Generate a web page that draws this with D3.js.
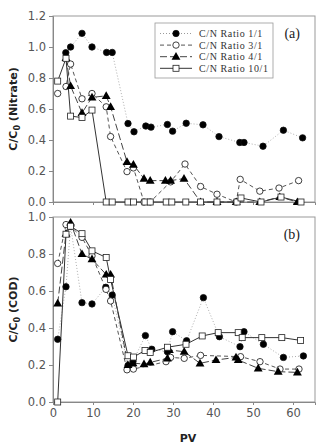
<!DOCTYPE html>
<html><head><meta charset="utf-8">
<script src="https://cdn.jsdelivr.net/npm/d3@7"></script>
<style>body{margin:0;background:#fff}svg{display:block}</style>
</head><body>
<script>
// ---- data ----
const seriesNames = ["C/N Ratio 1/1","C/N Ratio 3/1","C/N Ratio 4/1","C/N Ratio 10/1"];
const yTicksTop = [0,0.2,0.4,0.6,0.8,1.0,1.2];
const yTicksBottom = [0,0.2,0.4,0.6,0.8,1.0];
const xTicks = [0,10,20,30,40,50,60];

const nitrate11 = [[3.2,0.963],[4.4,1.0],[7.25,1.088],[9.75,1.0],[13.4,0.965],[14.8,0.965],[18.75,0.506],[20.25,0.453],[23.2,0.49],[24.5,0.483],[28.6,0.50],[29.9,0.457],[33.3,0.508],[37.5,0.498],[41.5,0.422],[46.7,0.384],[47.75,0.384],[52.5,0.36],[57.6,0.463],[62.4,0.414]];
const nitrate31 = [[1.17,0.70],[3.25,0.745],[4.4,0.89],[7.25,0.666],[9.75,0.70],[13.3,0.614],[14.4,0.422],[18.5,0.196],[20.1,0.22],[22.75,0],[24.3,0],[29.4,0.13],[33,0.245],[36.9,0.10],[41,0.05],[45.8,0],[46.8,0.146],[51.7,0.07],[56.5,0.09],[61.4,0.138]];
const nitrate41 = [[3.25,0.93],[4.4,0.748],[7.25,0.575],[9.75,0.675],[13.3,0.685],[14.4,0.614],[18.5,0.259],[20.1,0.241],[22.75,0.151],[24.3,0.138],[28.1,0.138],[29.4,0.138],[32.75,0.151],[36.9,0],[41,0],[45.8,0],[51.7,0],[56.7,0.032],[61.1,0]];
const nitrate101 = [[1.17,0.78],[3.25,0.927],[4.4,0.554],[7.25,0.545],[9.75,0.593],[13.3,0],[14.8,0],[18.75,0],[20.1,0],[23,0],[24.3,0],[28.3,0],[29.7,0],[33.2,0],[36.9,0],[41,0],[46,0],[47,0.026],[52,0],[57,0.032],[62,0]];

const cod11 = [[1.17,0.339],[3.25,0.623],[4.4,0.95],[7.25,0.537],[9.75,0.53],[13.2,0.62],[14.8,0.578],[18.75,0.197],[20,0.22],[23.1,0.359],[24.7,0.285],[28.6,0.272],[29.9,0.38],[33.4,0.331],[37.6,0.564],[41.6,0.353],[46.75,0.299],[47.75,0.38],[52.6,0.312],[57.6,0.241],[62.6,0.249]];
const cod31 = [[1.17,0.749],[3.25,0.959],[4.4,0.95],[7.25,0.89],[9.75,0.79],[13.25,0.609],[14.4,0.546],[18.5,0.174],[20.1,0.178],[28.25,0.218],[29.4,0.241],[32.8,0.236],[36.9,0.252],[46.9,0.245],[51.75,0.218],[56.75,0.178],[61.5,0.178]];
const cod41 = [[1.17,0.533],[3.25,0.91],[4.4,0.97],[7.25,0.80],[9.75,0.772],[13.3,0.689],[14.4,0.689],[18.75,0.2],[20,0.21],[22.75,0.205],[24.3,0.214],[28.6,0.236],[29.1,0.281],[32.8,0.272],[36.75,0.209],[40.75,0.227],[45.75,0.241],[46.3,0.227],[51.3,0.182],[56.3,0.164],[61.1,0.16]];
const cod101 = [[1.17,0.0],[3.25,0.907],[4.4,0.95],[7.25,0.91],[9.75,0.817],[13.3,0.781],[14.4,0.662],[18.75,0.25],[20.1,0.243],[23,0.278],[24.3,0.268],[28.6,0.296],[33.25,0.312],[37.3,0.357],[41.3,0.375],[46.3,0.375],[47.3,0.348],[52.2,0.348],[57.2,0.348],[61.9,0.333]];

// ---- styles ----
const styles = [
  {dash:"1,2", stroke:"#9a9a9a", marker:"circle", fill:"#000"},
  {dash:"4,3", stroke:"#555", marker:"circle", fill:"#fff"},
  {dash:"7,3", stroke:"#444", marker:"triangle", fill:"#000"},
  {dash:null, stroke:"#333", marker:"square", fill:"#fff"}
];

const W=320,H=446;
const svg=d3.select("body").append("svg").attr("width",W).attr("height",H);
const x=d3.scaleLinear().domain([0,65.5]).range([53,315]);

function marker(g, st, px, py){
  if(st.marker==="circle"){
    g.append("circle").attr("cx",px).attr("cy",py).attr("r",3.2)
      .attr("fill",st.fill).attr("stroke","#111").attr("stroke-width",0.8);
  } else if(st.marker==="triangle"){
    g.append("path").attr("d",d3.symbol().type(d3.symbolTriangle).size(34)())
      .attr("transform",`translate(${px},${py+0.5})`).attr("fill","#000");
  } else {
    g.append("rect").attr("x",px-3).attr("y",py-3).attr("width",6).attr("height",6)
      .attr("fill","#fff").attr("stroke","#222").attr("stroke-width",0.8);
  }
}

function panel(yDomain, yRange, ticks, datasets, label, tag, showX){
  const y=d3.scaleLinear().domain(yDomain).range(yRange);
  const g=svg.append("g");
  // frame
  g.append("rect").attr("x",x.range()[0]).attr("y",yRange[1])
    .attr("width",x.range()[1]-x.range()[0]).attr("height",yRange[0]-yRange[1])
    .attr("fill","none").attr("stroke","#999").attr("stroke-width",1);
  const ya=g.append("g").attr("transform",`translate(${x.range()[0]},0)`)
    .call(d3.axisLeft(y).tickValues(ticks).tickFormat(d3.format(".1f")).tickSize(4).tickPadding(3));
  ya.selectAll("text").attr("font-family","DejaVu Sans, Verdana, sans-serif").attr("font-size",11.5).attr("fill","#555");
  ya.selectAll("line,path").attr("stroke","#888");
  const xa=g.append("g").attr("transform",`translate(0,${yRange[0]})`)
    .call(d3.axisBottom(x).tickValues(xTicks).tickSize(3).tickPadding(4).tickFormat(showX?d3.format("d"):""));
  xa.selectAll("text").attr("font-family","DejaVu Sans, Verdana, sans-serif").attr("font-size",11.5).attr("fill","#555");
  xa.selectAll("line,path").attr("stroke","#888");
  // lines
  const line=d3.line().x(d=>x(d[0])).y(d=>y(d[1]));
  datasets.forEach((ds,i)=>{
    const st=styles[i];
    g.append("path").datum(ds).attr("d",line).attr("fill","none")
      .attr("stroke",st.stroke).attr("stroke-width",st.dash==="1,2"?0.8:1)
      .attr("stroke-dasharray",st.dash);
  });
  datasets.forEach((ds,i)=>{
    const mg=g.append("g");
    ds.forEach(d=>marker(mg,styles[i],x(d[0]),y(d[1])));
  });
  // y label
  const cy=(yRange[0]+yRange[1])/2;
  const t=svg.append("text").attr("transform",`translate(17,${cy}) rotate(-90)`)
    .attr("text-anchor","middle").attr("font-family","DejaVu Sans, Verdana, sans-serif")
    .attr("font-weight","bold").attr("font-size",11).attr("fill","#222");
  t.append("tspan").text("C/C");
  t.append("tspan").attr("font-size",8).attr("dy",3).text("0");
  t.append("tspan").attr("dy",-3).text(" "+label);
  // tag
  svg.append("text").attr("x",300).attr("y",yRange[1]+22).attr("text-anchor","end")
    .attr("font-family","Liberation Serif, Times New Roman, serif").attr("font-size",14).attr("fill","#222").text(tag);
  return y;
}

panel([0,1.2],[202,16],yTicksTop,[nitrate11,nitrate31,nitrate41,nitrate101],"(Nitrate)","(a)",false);
panel([0,1.0],[402,217],yTicksBottom,[cod11,cod31,cod41,cod101],"(COD)","(b)",true);

svg.append("text").attr("x",188).attr("y",442).attr("text-anchor","middle")
  .attr("font-family","DejaVu Sans, Verdana, sans-serif").attr("font-weight","bold").attr("font-size",11).attr("fill","#222").text("PV");

// legend
const lg=svg.append("g");
lg.append("rect").attr("x",155).attr("y",23).attr("width",118).attr("height",55)
  .attr("fill","#fff").attr("stroke","#999").attr("stroke-width",0.8);
seriesNames.forEach((nm,i)=>{
  const yy=33.5+i*11.6, st=styles[i];
  lg.append("line").attr("x1",160).attr("x2",192).attr("y1",yy).attr("y2",yy)
    .attr("stroke",st.stroke).attr("stroke-width",1).attr("stroke-dasharray",st.dash);
  marker(lg,st,176,yy);
  lg.append("text").attr("x",199).attr("y",yy+3.5).attr("font-family","Liberation Serif, Times New Roman, serif")
    .attr("font-size",10).attr("letter-spacing",0.6).attr("fill","#333").text(nm);
});
</script>
</body></html>
